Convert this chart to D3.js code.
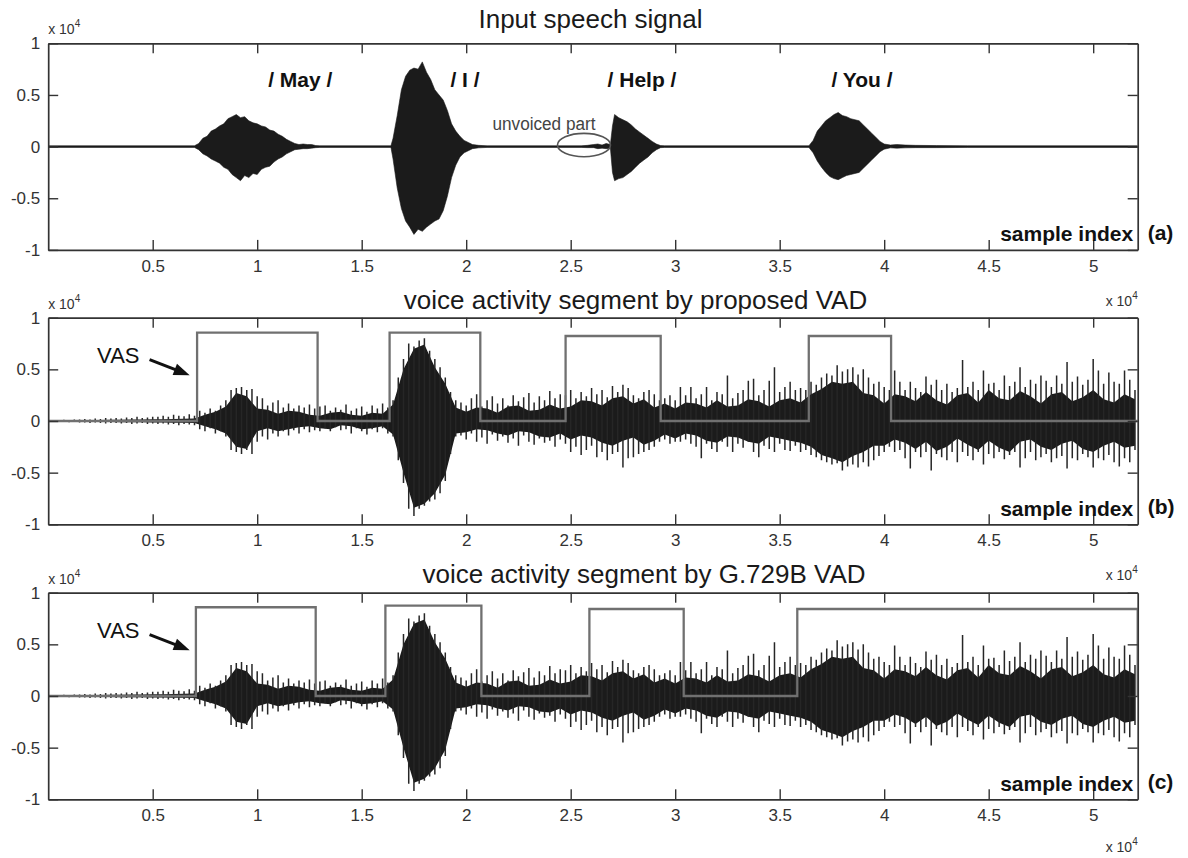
<!DOCTYPE html>
<html>
<head>
<meta charset="utf-8">
<script src="https://cdn.jsdelivr.net/npm/d3@7"></script>
<style>
	body { margin: 0; background: #fff; }
	svg { display: block; font-family: "Liberation Sans", Arial, sans-serif; }
</style>
</head>
<body>
<script>
// ---- data (amplitudes in units of 1e4, x in samples) ----
var lastSample = 52130;
var xTickValues = [5000, 10000, 15000, 20000, 25000, 30000, 35000, 40000, 45000, 50000];
var yTickValues = [-1, -0.5, 0, 0.5, 1];

var panelTitles = ['Input speech signal', 'voice activity segment by proposed VAD', 'voice activity segment by G.729B VAD'];
var panelTags = ['(a)', '(b)', '(c)'];

// clean input signal (a): envelope points
var sigX = [0, 7000, 7200, 7400, 7600, 7800, 8000, 8200, 8400, 8600, 8800, 9000, 9200, 9400, 9600, 9800, 10000, 10200, 10400, 10600, 10800, 11000, 11200, 11400, 11600, 11800, 12000, 12200, 12400, 12600, 12800, 13000,
	16400, 16500, 16700, 16900, 17100, 17300, 17500, 17700, 17900, 18100, 18300, 18500, 18700, 18900, 19100, 19300, 19500, 19700, 19900, 20100, 20300, 20600, 21000,
	25500, 25800, 26100, 26300, 26500, 26700, 26900, 27000, 27100, 27300, 27500, 27700, 27900, 28100, 28300, 28500, 28700, 28900, 29100, 29300, 29500,
	36400, 36600, 36800, 37000, 37200, 37400, 37600, 37800, 38000, 38200, 38400, 38600, 38800, 39000, 39200, 39400, 39600, 39800, 40000, 40300, 40600, 41000, 41500, 42500, 44000, 52130];
var sigHi = [0.008, 0.008, 0.03, 0.08, 0.1, 0.15, 0.17, 0.2, 0.22, 0.27, 0.29, 0.31, 0.28, 0.29, 0.25, 0.23, 0.22, 0.2, 0.19, 0.16, 0.15, 0.12, 0.1, 0.07, 0.05, 0.03, 0.02, 0.025, 0.02, 0.02, 0.01, 0.008,
	0.008, 0.08, 0.3, 0.55, 0.68, 0.74, 0.76, 0.75, 0.82, 0.72, 0.65, 0.55, 0.5, 0.45, 0.35, 0.22, 0.15, 0.1, 0.06, 0.04, 0.02, 0.012, 0.008,
	0.008, 0.012, 0.02, 0.025, 0.015, 0.03, 0.02, 0.2, 0.31, 0.28, 0.26, 0.24, 0.21, 0.17, 0.14, 0.11, 0.08, 0.05, 0.025, 0.01, 0.008,
	0.008, 0.06, 0.15, 0.2, 0.25, 0.28, 0.31, 0.33, 0.3, 0.29, 0.27, 0.26, 0.25, 0.21, 0.17, 0.13, 0.09, 0.05, 0.025, 0.015, 0.02, 0.015, 0.012, 0.01, 0.008, 0.008];
var sigLo = [-0.008, -0.008, -0.03, -0.07, -0.09, -0.12, -0.14, -0.16, -0.2, -0.22, -0.27, -0.3, -0.33, -0.28, -0.3, -0.26, -0.27, -0.22, -0.2, -0.19, -0.15, -0.12, -0.1, -0.07, -0.05, -0.03, -0.025, -0.02, -0.02, -0.015, -0.01, -0.008,
	-0.008, -0.12, -0.4, -0.6, -0.72, -0.78, -0.85, -0.8, -0.82, -0.78, -0.75, -0.72, -0.7, -0.62, -0.48, -0.3, -0.18, -0.1, -0.06, -0.04, -0.02, -0.012, -0.008,
	-0.008, -0.01, -0.01, -0.02, -0.015, -0.02, -0.015, -0.25, -0.33, -0.31, -0.3, -0.27, -0.24, -0.2, -0.16, -0.13, -0.1, -0.06, -0.03, -0.01, -0.008,
	-0.008, -0.06, -0.14, -0.2, -0.25, -0.29, -0.31, -0.32, -0.3, -0.28, -0.27, -0.26, -0.25, -0.21, -0.17, -0.13, -0.09, -0.05, -0.025, -0.012, -0.015, -0.012, -0.01, -0.01, -0.008, -0.008];

// noisy signal (b) and (c): per-bin extremes every 250 samples
var noiseStep = 250;
var noiseHi = [0.01, 0.01, 0.01, 0.012, 0.01, 0.015, 0.015,
	0.02, 0.015, 0.025, 0.02, 0.03, 0.025,
	0.03, 0.025, 0.035, 0.03, 0.04, 0.03, 0.035, 0.04,
	0.04, 0.05, 0.04, 0.06, 0.05, 0.045, 0.065, 0.05,
	0.1, 0.08, 0.12, 0.1, 0.15,
	0.2, 0.3, 0.32, 0.33, 0.3, 0.31, 0.24,
	0.22, 0.15, 0.18, 0.2, 0.13, 0.17, 0.12, 0.15, 0.13, 0.16, 0.12, 0.14,
	0.15, 0.1, 0.13, 0.11, 0.16, 0.1, 0.12, 0.14, 0.09, 0.15, 0.12, 0.17, 0.13,
	0.2, 0.42, 0.6, 0.75, 0.72, 0.78, 0.8, 0.68, 0.6, 0.52, 0.42, 0.28, 0.2,
	0.18, 0.15, 0.22, 0.26, 0.14, 0.2, 0.24, 0.17, 0.22, 0.15, 0.25, 0.19, 0.23, 0.27, 0.18, 0.24, 0.2, 0.29, 0.22, 0.26,
	0.25, 0.3, 0.22, 0.28, 0.24, 0.32, 0.26, 0.3, 0.23, 0.34, 0.28,
	0.35, 0.32, 0.25, 0.22, 0.28, 0.3, 0.26, 0.2, 0.22, 0.25, 0.2,
	0.33, 0.25, 0.33, 0.22, 0.26, 0.33, 0.2, 0.28, 0.26, 0.44, 0.22, 0.27, 0.3, 0.39, 0.41, 0.25, 0.3, 0.39, 0.52, 0.28, 0.33, 0.38, 0.3, 0.32,
	0.3, 0.38, 0.35, 0.42, 0.46, 0.44, 0.54, 0.48, 0.5, 0.52, 0.45, 0.5, 0.42, 0.36, 0.38, 0.33,
	0.3, 0.49, 0.38, 0.3, 0.38, 0.32, 0.28, 0.43, 0.35, 0.4, 0.3, 0.36, 0.28, 0.32, 0.59, 0.33, 0.38, 0.3, 0.49, 0.36,
	0.37, 0.3, 0.44, 0.34, 0.38, 0.52, 0.33, 0.4, 0.36, 0.44, 0.39, 0.33, 0.44, 0.36, 0.57, 0.38, 0.43, 0.35, 0.4, 0.6,
	0.49, 0.36, 0.47, 0.38, 0.36, 0.49, 0.4, 0.3];
var noiseLo = [-0.01, -0.01, -0.01, -0.01, -0.012, -0.01, -0.015,
	-0.015, -0.02, -0.015, -0.02, -0.025, -0.02,
	-0.02, -0.025, -0.02, -0.03, -0.025, -0.02, -0.03, -0.025,
	-0.03, -0.025, -0.035, -0.03, -0.04, -0.03, -0.035, -0.04,
	-0.08, -0.1, -0.07, -0.12, -0.1,
	-0.15, -0.28, -0.3, -0.32, -0.28, -0.32, -0.2,
	-0.15, -0.18, -0.12, -0.15, -0.1, -0.14, -0.09, -0.12, -0.08, -0.11, -0.09, -0.1,
	-0.07, -0.1, -0.06, -0.09, -0.08, -0.12, -0.07, -0.1, -0.13, -0.08, -0.11, -0.07, -0.12,
	-0.15, -0.38, -0.6, -0.85, -0.92, -0.85, -0.82, -0.78, -0.76, -0.7, -0.58, -0.32, -0.15,
	-0.14, -0.18, -0.12, -0.2, -0.16, -0.22, -0.13, -0.19, -0.15, -0.21, -0.17, -0.24, -0.14, -0.2, -0.23, -0.17, -0.21, -0.19, -0.25, -0.18,
	-0.22, -0.3, -0.25, -0.33, -0.28, -0.24, -0.35, -0.3, -0.38, -0.32, -0.3,
	-0.45, -0.36, -0.35, -0.32, -0.3, -0.28, -0.25, -0.2, -0.18, -0.22, -0.2,
	-0.2, -0.18, -0.22, -0.25, -0.36, -0.22, -0.27, -0.3, -0.2, -0.25, -0.3, -0.22, -0.26, -0.2, -0.3, -0.35, -0.24, -0.27, -0.3, -0.22, -0.28, -0.29, -0.24, -0.3,
	-0.28, -0.33, -0.35, -0.38, -0.4, -0.42, -0.41, -0.48, -0.44, -0.42, -0.45, -0.4, -0.44, -0.38, -0.34, -0.3,
	-0.25, -0.3, -0.28, -0.36, -0.46, -0.3, -0.35, -0.3, -0.48, -0.32, -0.35, -0.38, -0.3, -0.4, -0.3, -0.34, -0.38, -0.3, -0.42, -0.32,
	-0.36, -0.3, -0.37, -0.33, -0.3, -0.45, -0.36, -0.3, -0.38, -0.35, -0.32, -0.4, -0.36, -0.34, -0.46, -0.36, -0.38, -0.32, -0.35, -0.45,
	-0.36, -0.38, -0.33, -0.4, -0.44, -0.36, -0.4, -0.28];

// dense core of the noisy signal every 500 samples
var coreStep = 500;
var coreHi = [0.006, 0.006, 0.007, 0.008, 0.01, 0.01, 0.012, 0.012, 0.014, 0.015, 0.016, 0.018, 0.02, 0.022, 0.025,
	0.06, 0.09, 0.14, 0.27, 0.24, 0.12,
	0.11, 0.07, 0.1, 0.09, 0.06, 0.05, 0.08, 0.09, 0.06, 0.05, 0.08, 0.07,
	0.16, 0.5, 0.7, 0.74, 0.52, 0.36, 0.13,
	0.09, 0.13, 0.12, 0.08, 0.14, 0.15, 0.1, 0.11, 0.16, 0.12,
	0.14, 0.2, 0.19, 0.15, 0.22, 0.24, 0.17, 0.21, 0.13, 0.17,
	0.12, 0.18, 0.17, 0.13, 0.2, 0.14, 0.15, 0.21, 0.19, 0.14, 0.2, 0.22, 0.18,
	0.26, 0.31, 0.38, 0.36, 0.38, 0.27, 0.25,
	0.17, 0.26, 0.24, 0.19, 0.28, 0.2, 0.16, 0.25, 0.27, 0.18, 0.3, 0.22, 0.2, 0.29, 0.24, 0.17, 0.26, 0.28, 0.19, 0.23, 0.3, 0.21, 0.18, 0.26, 0.21];
var coreLo = [-0.006, -0.006, -0.007, -0.008, -0.01, -0.01, -0.01, -0.012, -0.012, -0.012, -0.014, -0.015, -0.016, -0.018, -0.02,
	-0.05, -0.08, -0.12, -0.25, -0.27, -0.1,
	-0.07, -0.1, -0.08, -0.06, -0.05, -0.07, -0.08, -0.04, -0.05, -0.08, -0.07, -0.05,
	-0.13, -0.5, -0.84, -0.8, -0.7, -0.52, -0.12,
	-0.11, -0.08, -0.09, -0.12, -0.14, -0.1, -0.11, -0.15, -0.16, -0.12,
	-0.18, -0.14, -0.16, -0.21, -0.24, -0.19, -0.16, -0.23, -0.19, -0.13,
	-0.17, -0.12, -0.14, -0.19, -0.21, -0.15, -0.16, -0.2, -0.22, -0.15, -0.17, -0.19, -0.21,
	-0.25, -0.33, -0.36, -0.4, -0.34, -0.3, -0.24,
	-0.24, -0.18, -0.21, -0.27, -0.2, -0.29, -0.25, -0.17, -0.23, -0.28, -0.19, -0.26, -0.3, -0.2, -0.18, -0.25, -0.28, -0.22, -0.19, -0.27, -0.3, -0.24, -0.2, -0.26, -0.24];

// voice activity segments
var vadPropStart = [7124, 16335, 24756, 36392];
var vadPropEnd = [12890, 20675, 29306, 40330];
var vadPropLevel = [0.855, 0.855, 0.823, 0.823];
var vadG729Start = [7067, 16134, 25895, 35842];
var vadG729End = [12799, 20727, 30407, 52130];
var vadG729Level = [0.859, 0.874, 0.842, 0.842];

// annotations (data coordinates)
var wordLabels = ['/ May /', '/ I /', '/ Help /', '/ You /'];
var wordCenters = [12060, 19943, 28411, 38938];
var wordLevel = 0.575;
var unvoicedAt = [23722, 0.16];
var unvoicedEllipse = [25636, 0.015, 1268, 0.113];
var vasLabelAt = [2340, 0.565];
var vasArrowFrom = [4850, 0.595];
var vasArrowTo = [6770, 0.443];
var sampleIndexAt = [51915, -0.915];

// ---- layout ----
var width = 1188, height = 858;
var plot = { left: 48.2, right: 1137.7, height: 206.6 };
var panelTops = [43.3, 317.7, 592.7];
var titleCenters = [590.5, 635.5, 644];
var titleOffsets = [15, 8.7, 9.3];
var bottomExpOffsets = [56.5, 55.7, 53];
var ink = '#1b1b1b', axisInk = '#333', vadInk = '#707070';

var svg = d3.select('body').append('svg')
	.attr('width', width)
	.attr('height', height);

var x = d3.scaleLinear().domain([0, lastSample]).range([plot.left, plot.right]);

function addExponent(xPos, yPos, anchor) {
	var t = svg.append('text')
		.attr('x', xPos)
		.attr('y', yPos)
		.attr('text-anchor', anchor)
		.attr('font-size', 14)
		.attr('fill', axisInk);
	t.append('tspan').text('x 10');
	t.append('tspan').attr('dy', -7).attr('font-size', 10).text('4');
}

function styleAxis(g) {
	g.attr('font-size', null).attr('font-family', null);
	g.select('.domain').attr('stroke', axisInk).attr('stroke-width', 1.7);
	g.selectAll('.tick line').attr('stroke', axisInk).attr('stroke-width', 1.4);
	g.selectAll('.tick text').attr('fill', axisInk).attr('font-size', 17);
}

function drawNoise(g, y) {
	var core = coreHi.map(function(v, i) { return { s: i * coreStep, hi: v, lo: coreLo[i] }; });
	g.append('path')
		.datum(core)
		.attr('fill', ink)
		.attr('d', d3.area().x(d => x(d.s)).y0(d => y(d.lo)).y1(d => y(d.hi)));

	g.append('g').selectAll('line')
		.data(noiseHi)
		.join('line')
		.attr('x1', (d, i) => x(i * noiseStep))
		.attr('x2', (d, i) => x(i * noiseStep))
		.attr('y1', (d, i) => y(noiseLo[i]))
		.attr('y2', d => y(d))
		.attr('stroke', '#262626')
		.attr('stroke-width', 1.5);
}

function drawVad(g, y, starts, ends, levels) {
	var pts = [[0, 0]];
	starts.forEach(function(s, i) {
		pts.push([s, 0], [s, levels[i]], [ends[i], levels[i]], [ends[i], 0]);
	});
	pts.push([lastSample, 0]);
	g.append('path')
		.datum(pts)
		.attr('fill', 'none')
		.attr('stroke', vadInk)
		.attr('stroke-width', 2.3)
		.attr('d', d3.line().x(d => x(d[0])).y(d => y(d[1])));
}

function drawVasArrow(g, y) {
	var x0 = x(vasArrowFrom[0]), y0 = y(vasArrowFrom[1]);
	var x1 = x(vasArrowTo[0]), y1 = y(vasArrowTo[1]);
	var len = Math.hypot(x1 - x0, y1 - y0);
	var ux = (x1 - x0) / len, uy = (y1 - y0) / len;
	var head = 16, half = 6;
	var bx = x1 - ux * head, by = y1 - uy * head;

	g.append('text')
		.attr('x', x(vasLabelAt[0]))
		.attr('y', y(vasLabelAt[1]))
		.attr('font-size', 22)
		.attr('fill', '#111')
		.text('VAS');
	g.append('line')
		.attr('x1', x0).attr('y1', y0)
		.attr('x2', bx + ux * 2).attr('y2', by + uy * 2)
		.attr('stroke', '#111')
		.attr('stroke-width', 3);
	g.append('polygon')
		.attr('points', [[x1, y1], [bx - uy * half, by + ux * half], [bx + uy * half, by - ux * half]].join(' '))
		.attr('fill', '#111');
}

panelTops.forEach(function(top, p) {
	var bottom = top + plot.height;
	var y = d3.scaleLinear().domain([-1, 1]).range([bottom, top]);
	var g = svg.append('g');

	g.append('clipPath').attr('id', 'clip' + p)
		.append('rect')
		.attr('x', plot.left).attr('y', top)
		.attr('width', plot.right - plot.left).attr('height', plot.height);

	var marks = g.append('g').attr('clip-path', 'url(#clip' + p + ')');

	if (p === 0) {
		var sig = sigX.map(function(s, i) { return { s: s, hi: sigHi[i], lo: sigLo[i] }; });
		marks.append('path')
			.datum(sig)
			.attr('fill', ink)
			.attr('stroke', ink)
			.attr('stroke-width', 0.6)
			.attr('d', d3.area().x(d => x(d.s)).y0(d => y(d.lo)).y1(d => y(d.hi)));
	} else {
		drawNoise(marks, y);
		if (p === 1) {
			drawVad(marks, y, vadPropStart, vadPropEnd, vadPropLevel);
		} else {
			drawVad(marks, y, vadG729Start, vadG729End, vadG729Level);
		}
	}

	// axes: labels bottom/left, inward ticks on all four sides
	g.append('g')
		.attr('transform', 'translate(0,' + bottom + ')')
		.call(d3.axisBottom(x).tickValues(xTickValues).tickFormat(d => String(d / 1e4)).tickSize(-10).tickSizeOuter(0).tickPadding(10))
		.call(styleAxis);
	g.append('g')
		.attr('transform', 'translate(0,' + top + ')')
		.call(d3.axisTop(x).tickValues(xTickValues).tickFormat('').tickSize(-10).tickSizeOuter(0))
		.call(styleAxis);
	g.append('g')
		.attr('transform', 'translate(' + plot.left + ',0)')
		.call(d3.axisLeft(y).tickValues(yTickValues).tickFormat(d => String(d)).tickSize(-10).tickSizeOuter(0).tickPadding(8))
		.call(styleAxis);
	g.append('g')
		.attr('transform', 'translate(' + plot.right + ',0)')
		.call(d3.axisRight(y).tickValues(yTickValues).tickFormat('').tickSize(-10).tickSizeOuter(0))
		.call(styleAxis);

	// title and exponents
	svg.append('text')
		.attr('x', titleCenters[p])
		.attr('y', top - titleOffsets[p])
		.attr('text-anchor', 'middle')
		.attr('font-size', 26)
		.attr('fill', '#1a1a1a')
		.text(panelTitles[p]);
	addExponent(plot.left, top - 9, 'start');
	addExponent(plot.right, bottom + bottomExpOffsets[p], 'end');

	svg.append('text')
		.attr('x', x(sampleIndexAt[0]))
		.attr('y', y(sampleIndexAt[1]))
		.attr('text-anchor', 'end')
		.attr('font-size', 21)
		.attr('font-weight', 'bold')
		.attr('fill', '#111')
		.text('sample index');
	svg.append('text')
		.attr('x', plot.right + 10)
		.attr('y', y(sampleIndexAt[1]) - 1.5)
		.attr('font-size', 21)
		.attr('font-weight', 'bold')
		.attr('fill', '#111')
		.text(panelTags[p]);

	if (p === 0) {
		svg.append('g').selectAll('text')
			.data(wordLabels)
			.join('text')
			.attr('x', (d, i) => x(wordCenters[i]))
			.attr('y', y(wordLevel))
			.attr('text-anchor', 'middle')
			.attr('font-size', 21)
			.attr('font-weight', 'bold')
			.attr('fill', '#111')
			.text(d => d);
		svg.append('text')
			.attr('x', x(unvoicedAt[0]))
			.attr('y', y(unvoicedAt[1]))
			.attr('text-anchor', 'middle')
			.attr('font-size', 18)
			.attr('textLength', 103)
			.attr('lengthAdjust', 'spacingAndGlyphs')
			.attr('fill', '#444')
			.text('unvoiced part');
		svg.append('ellipse')
			.attr('cx', x(unvoicedEllipse[0]))
			.attr('cy', y(unvoicedEllipse[1]))
			.attr('rx', x(unvoicedEllipse[0] + unvoicedEllipse[2]) - x(unvoicedEllipse[0]))
			.attr('ry', y(0) - y(unvoicedEllipse[3]))
			.attr('fill', 'none')
			.attr('stroke', '#555')
			.attr('stroke-width', 1.6);
	} else {
		drawVasArrow(svg.append('g'), y);
	}
});
</script>
</body>
</html>
